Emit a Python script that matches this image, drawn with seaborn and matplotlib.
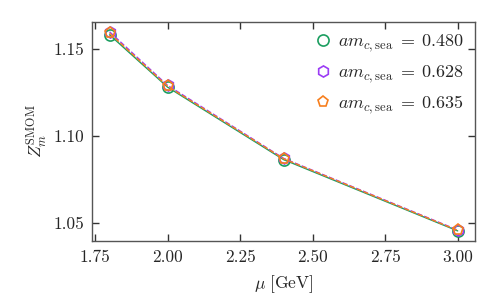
import pandas as pd
import matplotlib
matplotlib.use("Agg")
import matplotlib.pyplot as plt
import seaborn as sns

mu = [1.8, 2.0, 2.4, 3.0]
z_480 = [1.1583, 1.1282, 1.0865, 1.0455]
z_628 = [1.1600, 1.1292, 1.0872, 1.0460]
z_635 = [1.1592, 1.1287, 1.0870, 1.0458]
labels = [r'$am_{c,\mathrm{sea}}\;=\;0.480$',
          r'$am_{c,\mathrm{sea}}\;=\;0.628$',
          r'$am_{c,\mathrm{sea}}\;=\;0.635$']

sns.set_style("ticks")
plt.rcParams['font.family'] = 'serif'
plt.rcParams['font.serif'] = ['cmr10', 'DejaVu Serif']
plt.rcParams['mathtext.fontset'] = 'cm'
plt.rcParams['axes.formatter.use_mathtext'] = True

colors = ['#1b9e60', '#9b3cf5', '#f77f1e']
markers = ['o', 'h', 'p']
dashes = ['-', '--', '--']
series = [z_480, z_628, z_635]

fig = plt.figure(figsize=(4.98, 3.08), dpi=100)
ax = fig.add_axes([0.185, 0.218, 0.769, 0.711])

for z, lab, c, m, ls in zip(series, labels, colors, markers, dashes):
    df = pd.DataFrame({'mu': mu, 'Z': z})
    sns.lineplot(data=df, x='mu', y='Z', ax=ax, color=c, marker=m, linestyle=ls,
                 markersize=8, markerfacecolor='none', markeredgecolor=c,
                 markeredgewidth=1.2, linewidth=1.0, label=lab)

ax.set_xticks([1.75, 2.00, 2.25, 2.50, 2.75, 3.00])
ax.set_xticklabels(['1.75', '2.00', '2.25', '2.50', '2.75', '3.00'])
ax.set_yticks([1.05, 1.10, 1.15])
ax.set_yticklabels(['1.05', '1.10', '1.15'])
ax.tick_params(direction='in', top=True, right=True, labelsize=12.5, length=5,
               width=1, color='#333333', pad=6)
for s in ax.spines.values():
    s.set_color('#555555')
    s.set_linewidth(1.0)

ax.set_xlabel(r'$\mu\ [\mathrm{GeV}]$', fontsize=12.5, labelpad=6)
ax.set_ylabel(r'$Z_m^{\mathrm{SMOM}}$', fontsize=12.5, labelpad=3)
ax.legend(loc='upper right', frameon=False, fontsize=13, handlelength=0.7,
          handletextpad=0.5, labelspacing=0.5, borderaxespad=0.2, markerscale=1.0)
leg = ax.get_legend()
for h in leg.legend_handles:
    h.set_linestyle('none')

fig.savefig('out.png', dpi=100)
